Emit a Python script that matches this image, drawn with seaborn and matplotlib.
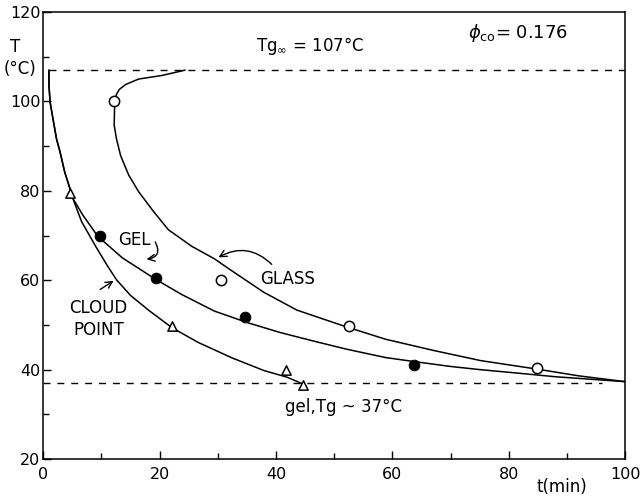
import seaborn as sns
import matplotlib.pyplot as plt
import pandas as pd

# measured points
glass_t = [12.2, 30.5, 52.5, 84.9]
glass_T = [100.0, 60.0, 49.8, 40.4]
gel_t = [9.7, 19.3, 34.6, 63.7]
gel_T = [69.8, 60.4, 51.8, 41.1]
cloud_t = [4.6, 22.1, 41.7, 44.6]
cloud_T = [79.5, 49.8, 39.8, 36.6]

# curves
glass_curve_t = [24.4, 20.4, 16.4, 14.2, 13.1, 12.6, 12.3, 12.2, 12.6, 13.3, 14.7, 16.4, 19.0,
                 21.5, 25.5, 29.4, 32.3, 37.9, 43.6, 52.0, 58.8, 67.0, 75.2, 84.9, 92.0, 100.0]
glass_curve_T = [107.0, 105.8, 105.0, 103.8, 102.7, 101.6, 100.1, 94.7, 91.6, 87.9, 83.5, 79.8, 75.3,
                 71.3, 67.6, 64.8, 62.2, 57.3, 53.3, 49.6, 46.8, 44.3, 42.0, 40.1, 38.6, 37.3]
gel_curve_t = [1.0, 1.0, 1.2, 1.7, 2.3, 2.9, 3.7, 4.6, 5.1, 6.8, 9.4, 13.6, 19.2, 23.8, 29.4,
               35.1, 40.7, 46.4, 52.0, 58.8, 63.7, 70.0, 75.0, 80.8, 88.0, 100.0]
gel_curve_T = [107.0, 103.5, 99.8, 96.0, 91.6, 88.7, 84.2, 80.5, 78.3, 74.6, 69.8, 65.0, 60.3, 56.8,
               53.1, 50.5, 48.3, 46.4, 44.6, 42.7, 41.8, 40.7, 40.0, 39.3, 38.4, 37.3]
cloud_curve_t = [1.0, 1.0, 1.2, 1.7, 2.3, 2.9, 3.7, 4.6, 5.1, 6.6, 9.1, 11.0, 12.6, 15.0, 18.1,
                 22.1, 26.6, 32.3, 37.9, 41.9, 44.4]
cloud_curve_T = [107.0, 103.5, 99.8, 96.0, 91.6, 88.7, 84.2, 80.5, 78.3, 73.1, 67.4, 63.3, 60.1,
                 56.6, 53.3, 49.4, 46.1, 42.7, 39.8, 38.3, 36.9]

tg_inf = 107
tg_gel = 37

sns.set_theme(style="white")
plt.rcParams['font.family'] = ['DejaVu Sans']
plt.rcParams['text.color'] = 'black'

fig = plt.figure(figsize=(6.44, 5.0), dpi=100)
ax = fig.add_axes([0.067, 0.082, 0.904, 0.894])

for ct, cT in [(glass_curve_t, glass_curve_T), (gel_curve_t, gel_curve_T),
               (cloud_curve_t, cloud_curve_T)]:
    d = pd.DataFrame({"t": ct, "T": cT})
    sns.lineplot(data=d, x="t", y="T", sort=False, estimator=None, errorbar=None,
                 color="black", lw=1.1, ax=ax)

ax.plot([1.0, 100], [tg_inf, tg_inf], ls=(0, (5, 5)), color="black", lw=1.0)
ax.plot([0, 96], [tg_gel, tg_gel], ls=(0, (5, 5)), color="black", lw=1.0)

sns.scatterplot(x=glass_t, y=glass_T, marker="o", s=55, facecolor="white",
                edgecolor="black", linewidth=1.1, ax=ax, zorder=5)
sns.scatterplot(x=gel_t, y=gel_T, marker="o", s=60, color="black",
                edgecolor="black", ax=ax, zorder=5)
sns.scatterplot(x=cloud_t, y=cloud_T, marker="^", s=45, facecolor="white",
                edgecolor="black", linewidth=1.1, ax=ax, zorder=5)

ax.set_xlim(0, 100)
ax.set_ylim(20, 120)
ax.set_xticks([0, 20, 40, 60, 80, 100])
ax.set_yticks([20, 40, 60, 80, 100, 120])
ax.set_xticks([10, 30, 50, 70, 90], minor=True)
ax.set_yticks([30, 50, 70, 90, 110], minor=True)
ax.tick_params(which="both", direction="in", colors="black", labelsize=11.5,
               left=True, bottom=True)
ax.tick_params(which="major", length=6, width=1)
ax.tick_params(which="minor", length=4, width=1)
ax.tick_params(axis="x", pad=6)
ax.tick_params(axis="y", pad=2)
for s in ax.spines.values():
    s.set_color("black")
    s.set_linewidth(1.1)
ax.set_xlabel("")
ax.set_ylabel("")

ax.text(45.8, 112.3, "Tg$_{\\infty}$ = 107°C", ha="center", va="center", fontsize=12)
ax.text(81.5, 115.4, "$\\phi_{\\rm co}$= 0.176", ha="center", va="center", fontsize=13)
ax.text(15.6, 68.9, "GEL", ha="center", va="center", fontsize=12)
ax.text(41.9, 60.2, "GLASS", ha="center", va="center", fontsize=12)
ax.text(9.5, 51.3, "CLOUD\nPOINT", ha="center", va="center", fontsize=12, linespacing=1.3)
ax.text(41.5, 31.6, "gel,Tg ~ 37°C", ha="left", va="center", fontsize=12)

arr = dict(arrowstyle="->", color="black", lw=1.0)
ax.annotate("", xy=(17.3, 64.6), xytext=(19.0, 69.1),
            arrowprops=dict(arr, connectionstyle="arc3,rad=-0.8"))
ax.annotate("", xy=(29.7, 64.8), xytext=(39.6, 63.1),
            arrowprops=dict(arr, connectionstyle="arc3,rad=0.4"))
ax.annotate("", xy=(12.5, 60.2), xytext=(9.4, 57.6),
            arrowprops=dict(arr, connectionstyle="arc3,rad=0"))

fig.text(0.024, 0.905, "T", ha="center", va="center", fontsize=12)
fig.text(0.031, 0.862, "(°C)", ha="center", va="center", fontsize=12)
fig.text(0.872, 0.026, "t(min)", ha="center", va="center", fontsize=12)

fig.savefig("out.png", dpi=100)
